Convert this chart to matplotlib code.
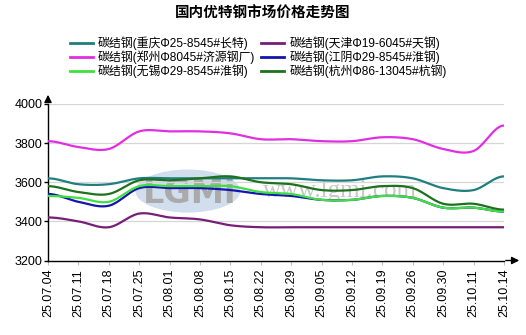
import numpy as np
import matplotlib.pyplot as plt
from matplotlib.patches import Ellipse

plt.rcParams['font.family'] = ['Liberation Sans', 'Noto Sans CJK SC', 'DejaVu Sans']

dates = ['25.07.04', '25.07.11', '25.07.18', '25.07.25', '25.08.01', '25.08.08',
         '25.08.15', '25.08.22', '25.08.29', '25.09.05', '25.09.12', '25.09.19',
         '25.09.26', '25.09.30', '25.10.11', '25.10.14']

chongqing = [3620, 3590, 3590, 3620, 3620, 3620, 3620, 3620, 3620, 3610, 3610, 3630, 3620, 3570, 3560, 3630]
tianjin = [3420, 3400, 3370, 3440, 3420, 3410, 3380, 3370, 3370, 3370, 3370, 3370, 3370, 3370, 3370, 3370]
zhengzhou = [3810, 3780, 3770, 3860, 3860, 3860, 3850, 3820, 3820, 3810, 3810, 3830, 3820, 3770, 3760, 3890]
jiangyin = [3540, 3500, 3480, 3570, 3570, 3570, 3560, 3540, 3530, 3510, 3510, 3530, 3520, 3470, 3470, 3450]
wuxi = [3530, 3520, 3500, 3580, 3580, 3580, 3580, 3550, 3540, 3510, 3510, 3530, 3520, 3470, 3470, 3450]
hangzhou = [3580, 3550, 3540, 3610, 3610, 3620, 3630, 3600, 3590, 3560, 3560, 3580, 3570, 3490, 3490, 3460]

series = [
    ('碳结钢(重庆Φ25-8545#长特)', chongqing, '#1f7f80'),
    ('碳结钢(郑州Φ8045#济源钢厂)', zhengzhou, '#e22ee2'),
    ('碳结钢(无锡Φ29-8545#淮钢)', wuxi, '#3ee03e'),
    ('碳结钢(天津Φ19-6045#天钢)', tianjin, '#761e78'),
    ('碳结钢(江阴Φ29-8545#淮钢)', jiangyin, '#1414b0'),
    ('碳结钢(杭州Φ86-13045#杭钢)', hangzhou, '#1c721c'),
]
# draw order (later ones end up on top)
draw_order = [3, 1, 0, 5, 4, 2]


def smooth(y, n=20, k=0.5):
    # cubic hermite through every point, catmull-rom style tangents
    y = np.asarray(y, float)
    x = np.arange(len(y), dtype=float)
    m = np.zeros_like(y)
    m[1:-1] = (y[2:] - y[:-2]) / 2 * (k / 0.5)
    xs, ys = [], []
    for i in range(len(y) - 1):
        t = np.linspace(0, 1, n, endpoint=False)
        h00 = 2 * t**3 - 3 * t**2 + 1
        h10 = t**3 - 2 * t**2 + t
        h01 = -2 * t**3 + 3 * t**2
        h11 = t**3 - t**2
        xs.append(x[i] + t)
        ys.append(h00 * y[i] + h10 * m[i] + h01 * y[i + 1] + h11 * m[i + 1])
    xs.append([x[-1]])
    ys.append([y[-1]])
    return np.concatenate(xs), np.concatenate(ys)


W, H = 526, 335
fig = plt.figure(figsize=(W / 100, H / 100), dpi=100)
ax = fig.add_axes([48 / W, 1 - 260.5 / H, 456 / W, 156.5 / H])

# watermark
ax.add_patch(Ellipse((4.6, 3555), 3.45, 220, facecolor='#c2d3e8', edgecolor='none', alpha=0.75, zorder=0))
ax.text(4.65, 3545, 'LGMi', fontsize=24, fontweight='bold', color='#aaaaaa', ha='center', va='center',
        family='DejaVu Sans', zorder=0.5)
ax.text(9.6, 3553, 'www.lgmi.com', fontsize=18, color='#c8c8c8', ha='center', va='center',
        family='Liberation Serif', zorder=0.5)

for i in draw_order:
    label, vals, color = series[i]
    xs, ys = smooth(vals)
    ax.plot(xs, ys, color=color, lw=1.6, zorder=3, solid_capstyle='round')

handles = []
for label, vals, color in series:
    handles.append(plt.Line2D([], [], color=color, lw=2, label=label))
fig.legend(handles=handles, ncol=2, loc='upper left', bbox_to_anchor=(64 / W, 1 - 30.5 / H),
           frameon=False, fontsize=8.6, handlelength=1.9, handletextpad=0.45,
           columnspacing=0.5, labelspacing=0.02, borderpad=0)

fig.text(263 / W, 1 - 13 / H, '国内优特钢市场价格走势图', ha='center', va='center',
         fontsize=10.5, fontweight='bold', family=['Noto Sans CJK SC'])

ax.set_xlim(0, len(dates) - 1)
ax.set_ylim(3200, 4000)
ax.set_yticks([3200, 3400, 3600, 3800, 4000])
ax.set_xticks(range(len(dates)))
ax.set_xticklabels(dates, rotation=90, fontsize=9)
ax.tick_params(axis='y', labelsize=9, length=3, width=1, pad=1)
ax.tick_params(axis='x', length=3, color='#c0c0c0', pad=3)
for v in [3400, 3600, 3800, 4000]:
    ax.axhline(v, color='#d6d6d6', lw=0.9, zorder=1)

for s in ['top', 'right']:
    ax.spines[s].set_visible(False)
ax.spines['left'].set_linewidth(1)
ax.spines['bottom'].set_linewidth(1)

# axis arrows
ax.annotate('', xy=(48 / W, 1 - 92 / H), xytext=(48 / W, 1 - 105 / H), xycoords='figure fraction',
            arrowprops=dict(arrowstyle='-|>', color='black', lw=1, mutation_scale=11))
ax.annotate('', xy=(522 / W, 1 - 260.5 / H), xytext=(503 / W, 1 - 260.5 / H), xycoords='figure fraction',
            arrowprops=dict(arrowstyle='-|>', color='black', lw=1, mutation_scale=11))

fig.savefig('out.png', dpi=100)
